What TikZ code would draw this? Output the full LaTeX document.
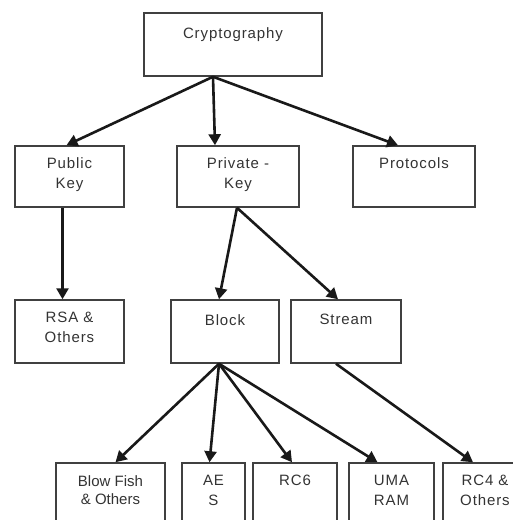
\documentclass[tikz,border=0pt]{standalone}
\usepackage{fontspec}
\setmainfont{Liberation Sans}
\usetikzlibrary{arrows.meta}
\tikzset{
  box/.style={draw=black!75, line width=1.5pt, rectangle, inner sep=0pt},
  txt/.style={anchor=north, inner sep=0pt, align=center, text=black!80,
    font={\addfontfeature{LetterSpace=6}\fontsize{15}{20}\selectfont}},
  arr/.style={line width=2.6pt, -{Triangle[length=11pt,width=12pt]}, black!90},
}
\begin{document}
\begin{tikzpicture}[x=1pt,y=-1pt]
\clip (0,0) rectangle (513,520);
\useasboundingbox (0,0) rectangle (513,520);
% boxes
\node[box, minimum width=178, minimum height=63] (crypto) at (233,44.5) {};
\node[box, minimum width=109, minimum height=61] (pub) at (69.5,176.5) {};
\node[box, minimum width=122, minimum height=61] (priv) at (238,176.5) {};
\node[box, minimum width=122, minimum height=61] (proto) at (414,176.5) {};
\node[box, minimum width=109, minimum height=63] (rsa) at (69.5,331.5) {};
\node[box, minimum width=108, minimum height=63] (block) at (225,331.5) {};
\node[box, minimum width=110, minimum height=63] (stream) at (346,331.5) {};
\node[box, minimum width=109, minimum height=63] (blow) at (110.5,494.5) {};
\node[box, minimum width=63, minimum height=63] (aes) at (213.5,494.5) {};
\node[box, minimum width=84, minimum height=63] (rc6) at (295,494.5) {};
\node[box, minimum width=85, minimum height=63] (uma) at (391.5,494.5) {};
\node[box, minimum width=86, minimum height=63] (rc4) at (486,494.5) {};
% texts
\node[txt] (tcrypto) at ([yshift=-15]crypto.north) {Cryptography};
\node[txt] (tpub) at ([yshift=-12]pub.north) {Public\\Key};
\node[txt] (tpriv) at ([yshift=-12]priv.north) {Private -\\Key};
\node[txt] (tproto) at ([yshift=-12]proto.north) {Protocols};
\node[txt] (trsa) at ([yshift=-13]rsa.north) {RSA \&\\Others};
\node[txt] (tblock) at ([yshift=-15]block.north) {Block};
\node[txt] (tstream) at ([yshift=-15]stream.north) {Stream};
\node[txt, font={\fontsize{15}{18}\selectfont}] (tblow) at ([yshift=-13]blow.north) {Blow Fish\\\& Others};
\node[txt] (taes) at ([yshift=-13]aes.north) {AE\\S};
\node[txt] (trc6) at ([yshift=-13]rc6.north) {RC6};
\node[txt] (tuma) at ([yshift=-13]uma.north) {UMA\\RAM};
\node[txt] (trc4) at ([yshift=-13,xshift=-1]rc4.north) {RC4 \&\\Others};
% arrows
\draw[arr] ([xshift=-20]crypto.south) -- ([xshift=-3]pub.north);
\draw[arr] ([xshift=-20]crypto.south) -- ([xshift=-23]priv.north);
\draw[arr] ([xshift=-20]crypto.south) -- ([xshift=-16]proto.north);
\draw[arr] ([xshift=-7]pub.south) -- ([xshift=-7]rsa.north);
\draw[arr] ([xshift=-1]priv.south) -- ([xshift=-6]block.north);
\draw[arr] ([xshift=-1]priv.south) -- ([xshift=-8]stream.north);
\draw[arr] ([xshift=-6]block.south) -- ([xshift=5]blow.north);
\draw[arr] ([xshift=-6]block.south) -- ([xshift=-4]aes.north);
\draw[arr] ([xshift=-6]block.south) -- ([xshift=-3]rc6.north);
\draw[arr] ([xshift=-6]block.south) -- ([xshift=-14]uma.north);
\draw[arr] ([xshift=-10]stream.south) -- ([xshift=-13]rc4.north);
\end{tikzpicture}
\end{document}
